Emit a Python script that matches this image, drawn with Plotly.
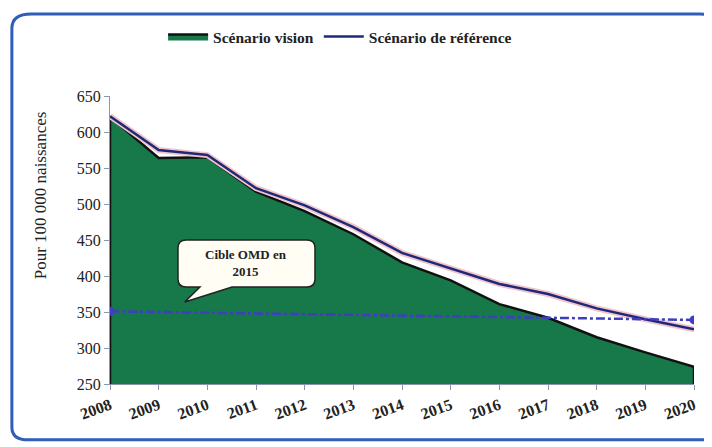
import plotly.graph_objects as go

annees = list(range(2008, 2021))
scenario_vision = [621, 564, 565, 517, 490, 458, 419, 394, 361, 342, 315, 294, 274]
scenario_reference = [622, 575, 568, 522, 498, 468, 432, 411, 389, 375, 355, 340, 326]
cible_omd_x = [2008, 2020]
cible_omd_y = [351, 339]
base_axe = 250

serif = "Liberation Serif, Times New Roman, DejaVu Serif, serif"
encre = "#222222"

fig = go.Figure()

# zone verte du scénario vision (polygone fermé sur l'axe)
fig.add_trace(go.Scatter(
    x=[annees[0]] + annees + [annees[-1]],
    y=[base_axe] + scenario_vision + [base_axe],
    fill="toself", fillcolor="#17794a",
    line=dict(color="#111111", width=2.5),
    mode="lines", name="<b>Scénario vision</b>", hoverinfo="skip"))

# halo rose sous la courbe de référence
fig.add_trace(go.Scatter(
    x=annees, y=scenario_reference, mode="lines",
    line=dict(color="#f4c4cc", width=6), showlegend=False, hoverinfo="skip"))
fig.add_trace(go.Scatter(
    x=annees, y=scenario_reference, mode="lines",
    line=dict(color="#1c2a78", width=2.5), name="<b>Scénario de référence</b>"))

# cible OMD
fig.add_trace(go.Scatter(
    x=cible_omd_x, y=cible_omd_y, mode="lines+markers",
    line=dict(color="#3d3fc0", width=2.5, dash="dashdot"),
    marker=dict(size=9, color="#3d3fc0"), showlegend=False))

# bulle "Cible OMD en 2015" (rectangle arrondi + pointe)
x0, x1, y0, y1 = 0.1164, 0.351, 0.337, 0.5
rx, ry = 0.014, 0.028
bulle = (f"M {x0+rx},{y1} L {x1-rx},{y1} Q {x1},{y1} {x1},{y1-ry} "
         f"L {x1},{y0+ry} Q {x1},{y0} {x1-rx},{y0} "
         f"L 0.209,{y0} L 0.128,0.285 L 0.154,{y0} "
         f"L {x0+rx},{y0} Q {x0},{y0} {x0},{y0+ry} "
         f"L {x0},{y1-ry} Q {x0},{y1} {x0+rx},{y1} Z")
fig.add_shape(type="path", xref="paper", yref="paper", path=bulle,
              line=dict(color=encre, width=1.5), fillcolor="#fffdf4")
fig.add_annotation(x=(x0 + x1) / 2, y=(y0 + y1) / 2, xref="paper", yref="paper",
                   xanchor="center", yanchor="middle",
                   text="<b>Cible OMD en<br>2015</b>", showarrow=False,
                   font=dict(family=serif, size=13, color=encre))

# titre de l'axe vertical
fig.add_annotation(x=-0.12, y=0.655, xref="paper", yref="paper", textangle=-90,
                   xanchor="center", yanchor="middle",
                   text="Pour 100 000 naissances", showarrow=False,
                   font=dict(family=serif, size=17, color=encre))

# cadre bleu arrondi autour du graphique
fig.add_shape(type="path", xref="paper", yref="paper",
              path="M -0.135,1.285 L 1.01,1.285 Q 1.036,1.285 1.036,1.235 L 1.036,-0.194 "
                   "L -0.14,-0.194 Q -0.168,-0.194 -0.168,-0.15 "
                   "L -0.168,1.235 Q -0.168,1.285 -0.135,1.285 Z",
              line=dict(color="#2f5db8", width=3))

fig.update_layout(
    width=704, height=439,
    margin=dict(l=102, r=18, t=88, b=63),
    paper_bgcolor="white", plot_bgcolor="white",
    font=dict(family=serif, size=13, color=encre),
    showlegend=True,
    legend=dict(orientation="h", x=0.394, xanchor="center", y=1.205, yanchor="middle",
                font=dict(family=serif, size=15.5, color=encre),
                itemwidth=40, bgcolor="rgba(0,0,0,0)"),
    xaxis=dict(range=[2008, 2020], tickmode="array", tickvals=annees,
               ticktext=[f"<b>{a}</b>" for a in annees], tickangle=-20,
               showgrid=False, zeroline=False, showline=True, linecolor="#8a96b0",
               ticks="outside", ticklen=5, tickcolor="#8a96b0",
               tickfont=dict(family=serif, size=16, color=encre)),
    yaxis=dict(range=[250, 650], tickvals=list(range(250, 651, 50)),
               showgrid=False, zeroline=False, showline=True, linecolor="#8a96b0",
               ticks="outside", ticklen=5, tickcolor="#8a96b0",
               tickfont=dict(family=serif, size=16, color=encre)),
)

fig.write_html("out.html")
